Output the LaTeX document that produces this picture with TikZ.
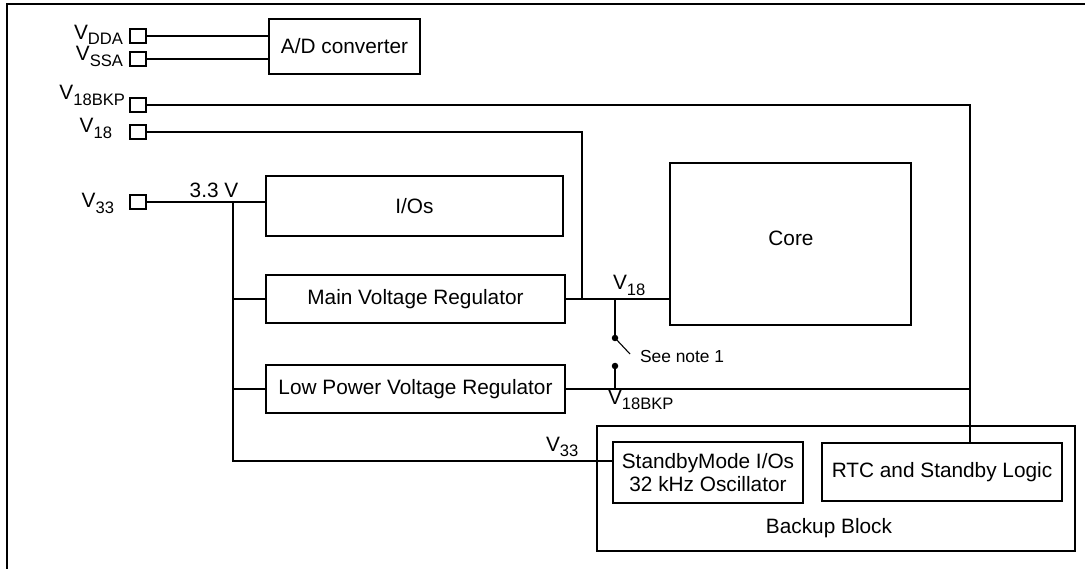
\documentclass[tikz,border=0pt]{standalone}
\usepackage{fontspec}
\setmainfont{Liberation Sans}
\newcommand{\sbs}[1]{\raisebox{-5.5pt}{\fontsize{16.6}{18}\selectfont #1}}
\newcommand{\Vlab}[1]{V\sbs{#1}}
\begin{document}
\begin{tikzpicture}[x=1pt,y=-1pt, line width=2pt,
  box/.style={draw, rectangle, inner sep=0pt, font=\fontsize{20.8}{23}\selectfont, align=center},
  pad/.style={draw, rectangle, inner sep=0pt, minimum width=16pt, minimum height=14pt},
  lab/.style={inner sep=0pt, font=\fontsize{20.8}{23}\selectfont},
  small/.style={inner sep=0pt, font=\fontsize{17.4}{20}\selectfont},
  dot/.style={circle, fill, inner sep=0pt, minimum size=6.5pt}]
\useasboundingbox (0,0) rectangle (1085,569);
\draw (7,569) -- (7,4) -- (1085,4);
% boxes
\node[box, minimum width=151pt, minimum height=55pt] (ad) at (344.5,46.5) {A/D converter};
\node[box, minimum width=297pt, minimum height=60pt] (ios) at (414.5,206) {I/Os};
\node[box, minimum width=241pt, minimum height=162pt] (core) at (790.5,244) {};
\node[lab] (coretxt) at (791,238) {Core};
\node[box, minimum width=299pt, minimum height=48pt] (mvr) at (415.5,299) {Main Voltage Regulator};
\node[box, minimum width=299pt, minimum height=48pt] (lpr) at (415.5,389) {Low Power Voltage Regulator};
\node[box, minimum width=478pt, minimum height=125pt] (bb) at (836,488.5) {};
\node[lab, anchor=base] (bbtxt) at (829,533) {Backup Block};
\node[box, minimum width=190pt, minimum height=61pt] (sby) at (708,472.5) {StandbyMode I/Os\\ 32 kHz Oscillator};
\node[box, minimum width=240pt, minimum height=58pt] (rtc) at (942,472) {RTC and Standby Logic};
% pads
\node[pad] (pDDA) at (138,36) {};
\node[pad] (pSSA) at (138,59) {};
\node[pad] (pBKP) at (138,105) {};
\node[pad] (p18) at (138,132) {};
\node[pad] (p33) at (138,202) {};
% labels
\node[lab, anchor=base east] (lDDA) at (124,39.5) {\Vlab{DDA}};
\node[lab, anchor=base east] (lSSA) at (124,61) {\Vlab{SSA}};
\node[lab, anchor=base east] (lBKP) at (126,100) {\Vlab{18BKP}};
\node[lab, anchor=base east] (l18) at (113,133) {\Vlab{18}};
\node[lab, anchor=base east] (l33) at (115,208) {\Vlab{33}};
\node[lab, anchor=base] (l33v) at (214,198) {3.3 V};
\node[lab, anchor=base west] (lc18) at (612,290) {\Vlab{18}};
\node[lab, anchor=base west] (lbkp2) at (607,404) {\Vlab{18BKP}};
\node[lab, anchor=base west] (lsb33) at (545,451) {\Vlab{33}};
\node[small, anchor=base west] (note) at (639,363) {See note 1};
% junctions
\coordinate (bkpc) at (970,105);
\coordinate (v18c) at (582,132);
\coordinate (busT) at (233,202);
\coordinate (busB) at (233,461);
\node[dot] (d1) at (615,338) {};
\node[dot] (d2) at (615,366) {};
\coordinate (swE) at (630,354);
% connectors
\draw (pDDA.east) -- (pDDA.east -| ad.west);
\draw (pSSA.east) -- (pSSA.east -| ad.west);
\draw (pBKP.east) -- (bkpc) -- (bkpc |- rtc.north);
\draw (p18.east) -- (v18c) -- (v18c |- mvr.east);
\draw (p33.east) -- (p33.east -| ios.west);
\draw (busT) -- (busB) -- (busB -| sby.west);
\draw (busT |- mvr.west) -- (mvr.west);
\draw (busT |- lpr.west) -- (lpr.west);
\draw (mvr.east) -- (mvr.east -| core.west);
\draw (d1 |- mvr.east) -- (d1.center);
\draw[line width=1.1pt] (d1.center) -- (swE);
\draw (d2.center) -- (d2.center |- lpr.east);
\draw (lpr.east) -- (lpr.east -| bkpc);
\end{tikzpicture}
\end{document}
